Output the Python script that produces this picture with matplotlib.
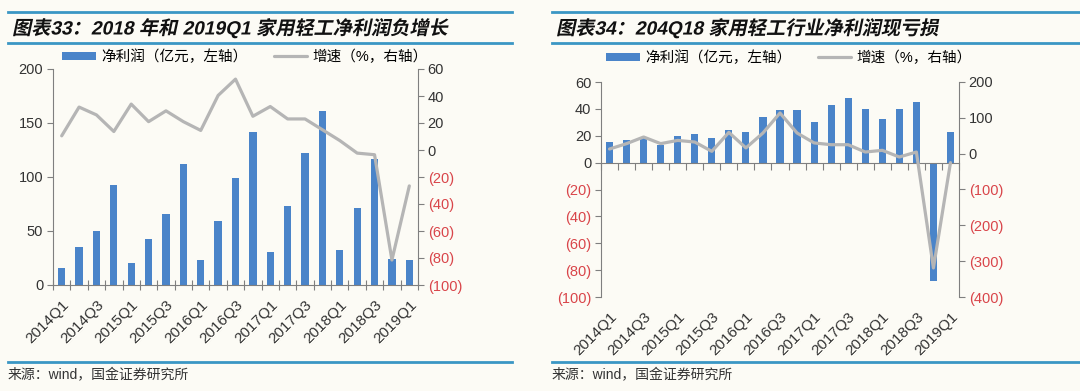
import matplotlib
matplotlib.use("Agg")
import matplotlib.pyplot as plt
from matplotlib.lines import Line2D
from matplotlib.patheffects import AbstractPathEffect
from matplotlib.transforms import Affine2D

plt.rcParams["font.family"] = ["Liberation Sans", "Noto Sans CJK SC"]

quarters = ["2014Q1", "2014Q2", "2014Q3", "2014Q4",
            "2015Q1", "2015Q2", "2015Q3", "2015Q4",
            "2016Q1", "2016Q2", "2016Q3", "2016Q4",
            "2017Q1", "2017Q2", "2017Q3", "2017Q4",
            "2018Q1", "2018Q2", "2018Q3", "2018Q4",
            "2019Q1"]

# 图表33: 家用轻工
profit_home = [15.5, 35.5, 50.4, 92.7, 20.7, 42.3, 65.5, 112.2, 23.2, 59.4, 98.9,
               141.3, 30.6, 73.6, 121.8, 161.4, 32.1, 71.7, 116.8, 24.0, 23.2]
growth_home = [10.5, 31.8, 26.0, 13.7, 34.0, 21.0, 29.0, 21.0, 14.5, 40.4, 52.5,
               25.0, 32.2, 23.0, 23.0, 15.0, 7.0, -2.3, -3.5, -81.5, -26.6]

# 图表34: 家用轻工行业
profit_ind = [15.1, 16.9, 19.4, 13.1, 19.8, 21.3, 18.6, 24.3, 22.8, 34.0, 39.0,
              39.0, 30.5, 42.7, 48.4, 39.7, 32.2, 39.7, 44.9, -88.0, 22.8]
growth_ind = [13, 28, 46.5, 28, 37, 32.5, 6.5, 59.5, 16, 57.7, 113.5,
              57.7, 30, 25, 25, 4.6, 9.3, -9.3, 4.6, -319, -25]

BG = "#fcfbf5"
BAR = "#4a84c9"
LINE = "#b5b5b5"
RED = "#d9454a"
TXT = "#333333"
RULE = "#3a96c4"


class Oblique(AbstractPathEffect):
    """Fake italic for CJK glyphs by shearing the text path."""
    def draw_path(self, renderer, gc, tpath, affine, rgbFace=None):
        renderer.draw_path(gc, tpath, Affine2D().skew_deg(12, 0) + affine, rgbFace)


def paren_labels(ticks):
    return [f"({abs(t):.0f})" if t < 0 else f"{t:.0f}" for t in ticks]


def style_ticklabels(labels, ticks):
    for lab, t in zip(labels, ticks):
        lab.set_color(RED if t < 0 else TXT)


fig = plt.figure(figsize=(10.8, 3.91), dpi=100, facecolor=BG)
W, H = 1080, 391


def fx(px):
    return px / W


def fy(py):
    return 1 - py / H


def header(x0, x1, title):
    fig.add_artist(Line2D([fx(x0), fx(x1)], [fy(12), fy(12)], color=RULE, lw=2))
    fig.add_artist(Line2D([fx(x0), fx(x1)], [fy(43), fy(43)], color=RULE, lw=2))
    fig.text(fx(x0 + 4), fy(28), title, fontsize=13.8, fontweight="bold",
             va="center", ha="left", color="#111111",
             path_effects=[Oblique()])
    fig.add_artist(Line2D([fx(x0), fx(x1)], [fy(362), fy(362)], color=RULE, lw=2))
    fig.text(fx(x0), fy(375), "来源：wind，国金证券研究所", fontsize=10,
             va="center", ha="left", color=TXT)


def panel(rect, profit, growth, lticks, rticks, legend_xy, zero_axis):
    ax = fig.add_axes(rect)
    ax.set_facecolor("none")
    x = list(range(len(quarters)))
    b = ax.bar(x, profit, width=0.42, color=BAR, zorder=2, label="净利润（亿元，左轴）")
    ax.set_xlim(-0.5, len(quarters) - 0.5)
    ax.set_ylim(lticks[0], lticks[-1])
    ax.set_yticks(lticks)
    ax.set_yticklabels(paren_labels(lticks))
    style_ticklabels(ax.get_yticklabels(), lticks)

    ax2 = ax.twinx()
    ln, = ax2.plot(x, growth, color=LINE, lw=2.3, solid_joinstyle="round",
                   solid_capstyle="round", zorder=3, label="增速（%，右轴）")
    ax2.set_ylim(rticks[0], rticks[-1])
    ax2.set_yticks(rticks)
    ax2.set_yticklabels(paren_labels(rticks))
    style_ticklabels(ax2.get_yticklabels(), rticks)

    for a in (ax, ax2):
        a.spines["top"].set_visible(False)
        a.spines["left"].set_color("#7f7f7f")
        a.spines["right"].set_color("#7f7f7f")
        a.tick_params(axis="y", labelsize=10.5, length=4, color="#7f7f7f", pad=3)
    ax2.spines["bottom"].set_visible(False)
    ax.spines["right"].set_visible(False)
    ax2.spines["left"].set_visible(False)

    # category boundary ticks on the zero line, labels at the bottom
    bounds = [i - 0.5 for i in range(len(quarters) + 1)]
    ax.set_xticks(bounds)
    ax.set_xticklabels([])
    ax.spines["bottom"].set_color("#7f7f7f")
    if zero_axis:
        ax.spines["bottom"].set_position(("data", 0))
        ax.tick_params(axis="x", direction="out", length=5, color="#7f7f7f")
    else:
        ax.tick_params(axis="x", direction="inout", length=7, color="#7f7f7f")
    sec = ax.secondary_xaxis("bottom")
    sec.set_xticks(x[::2])
    sec.set_xticklabels(quarters[::2], rotation=45, ha="right",
                        rotation_mode="anchor", fontsize=11, color=TXT)
    sec.tick_params(length=0, pad=9)
    sec.spines["bottom"].set_visible(False)

    ax2.legend([b, ln], [b.get_label(), ln.get_label()], loc="center",
               bbox_to_anchor=legend_xy, ncol=2, frameon=False, fontsize=10.5,
               handlelength=2.3, handletextpad=0.35, columnspacing=1.8,
               borderaxespad=0, handleheight=0.55)
    return ax, ax2


header(8, 512, "图表33：2018 年和 2019Q1 家用轻工净利润负增长")
header(552, 1080, "图表34：204Q18 家用轻工行业净利润现亏损")

panel([fx(53), fy(285), fx(418) - fx(53), fy(69) - fy(285)],
      profit_home, growth_home,
      [0, 50, 100, 150, 200],
      [-100, -80, -60, -40, -20, 0, 20, 40, 60],
      (0.526, 1.056), zero_axis=False)

panel([fx(601), fy(297), fx(959) - fx(601), fy(82) - fy(297)],
      profit_ind, growth_ind,
      [-100, -80, -60, -40, -20, 0, 20, 40, 60],
      [-400, -300, -200, -100, 0, 100, 200],
      (0.525, 1.112), zero_axis=True)

fig.savefig("out.png", dpi=100, facecolor=BG)
